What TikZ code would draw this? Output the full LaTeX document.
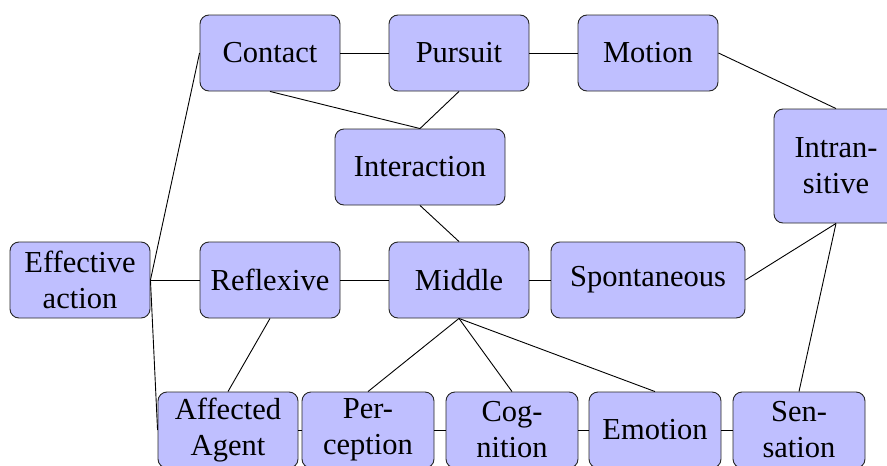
\documentclass[tikz,border=0pt]{standalone}
\usepackage{fontspec}
\setmainfont{Liberation Serif}
\begin{document}
\begin{tikzpicture}[x=1pt,y=-1pt,
  box/.style={draw=black!85, line width=0.9pt, fill=blue!25, rounded corners=9pt,
    minimum width=140pt, minimum height=76pt, align=center, inner sep=2pt,
    font=\fontsize{30.5}{36}\selectfont},
  small/.style={box, minimum width=132pt},
  link/.style={line width=0.9pt}]
\useasboundingbox (0,0) rectangle (887,466);
% top row
\node[box] (contact) at (270,53) {Contact};
\node[box] (pursuit) at (459,53) {Pursuit};
\node[box] (motion) at (648,53) {Motion};
\node[box, minimum width=124pt, minimum height=114pt] (intrans) at (836,166) {Intran-\\sitive};
\node[box, minimum width=170pt] (interact) at (420,167) {Interaction};
% middle row
\node[box] (effective) at (80,280) {Effective\\action};
\node[box] (reflexive) at (270,280) {Reflexive};
\node[box] (middle) at (459,280) {Middle};
\node[box, minimum width=194pt] (spont) at (648,280) {Spontaneous};
% bottom row
\node[box] (affected) at (228,430) {Affected\\Agent};
\node[small] (percep) at (368,430) {Per-\\ception};
\node[small] (cogn) at (512,430) {Cog-\\nition};
\node[small] (emotion) at (655,430) {Emotion};
\node[small] (sensat) at (799,430) {Sen-\\sation};
% connectors
\begin{scope}[link]
\draw (contact) -- (pursuit);
\draw (pursuit) -- (motion);
\draw (motion.east) -- (intrans.north);
\draw (contact.south) -- (interact.north);
\draw (pursuit.south) -- (interact.north);
\draw (interact.south) -- (middle.north);
\draw (effective.east) -- (contact.west);
\draw (effective.east) -- (reflexive.west);
\draw (effective.east) -- (affected.west);
\draw (reflexive) -- (middle);
\draw (middle) -- (spont);
\draw (spont.east) -- (intrans.south);
\draw (sensat.north) -- (intrans.south);
\draw (reflexive.south) -- (affected.north);
\draw (middle.south) -- (percep.north);
\draw (middle.south) -- (cogn.north);
\draw (middle.south) -- (emotion.north);
\draw (affected) -- (percep);
\draw (percep) -- (cogn);
\draw (cogn) -- (emotion);
\draw (emotion) -- (sensat);
\end{scope}
\end{tikzpicture}
\end{document}
